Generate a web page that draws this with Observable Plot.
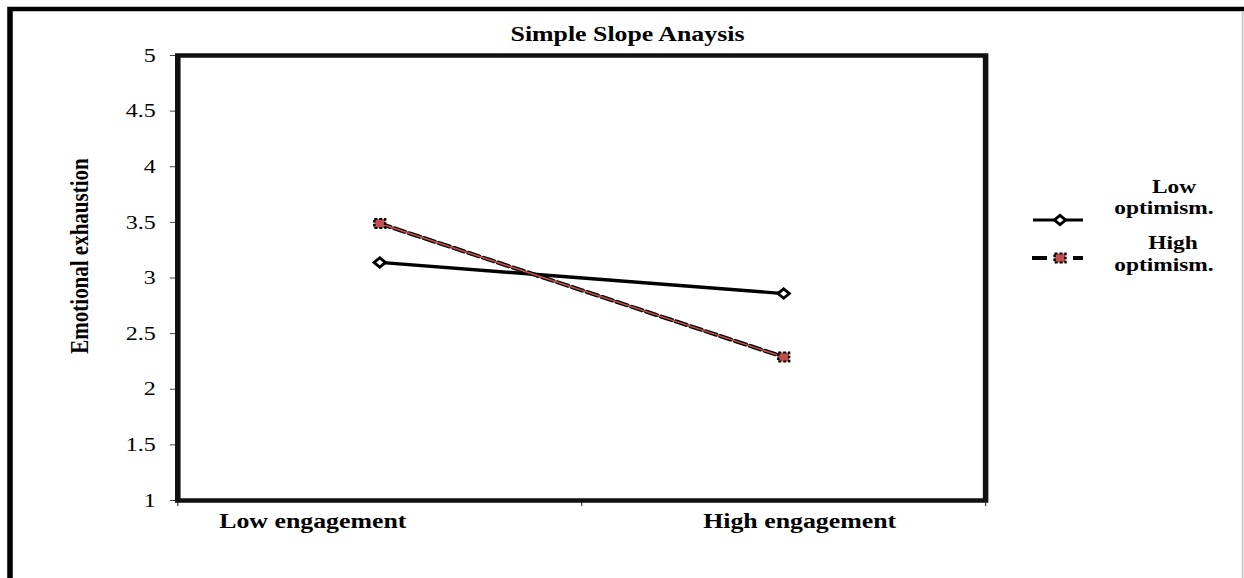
<!DOCTYPE html>
<html>
<head>
<meta charset="utf-8">
<script src="https://cdn.jsdelivr.net/npm/d3@7"></script>
<script src="https://cdn.jsdelivr.net/npm/@observablehq/plot@0.6"></script>
<style>
  html, body { margin: 0; padding: 0; background: #fff; overflow: hidden; }
  #chart { width: 1244px; height: 578px; }
</style>
</head>
<body>
<div id="chart"></div>
<script>
// ---- data ----
const engagement = ["Low engagement", "High engagement"];
const seriesNames = ["Low optimism.", "High optimism."];
const lowOptimism = [3.14, 2.86];
const highOptimism = [3.49, 2.29];
const yTicks = [1, 1.5, 2, 2.5, 3, 3.5, 4, 4.5, 5];
const titleText = "Simple Slope Anaysis";
const yLabel = "Emotional exhaustion";

const lowRows = engagement.map((e, i) => ({engagement: e, value: lowOptimism[i], series: seriesNames[0]}));
const highRows = engagement.map((e, i) => ({engagement: e, value: highOptimism[i], series: seriesNames[1]}));

// ---- layout ----
const W = 1011;           // drawing width, stretched horizontally to 1244px
const H = 578;
const s = 1244 / W;
const font = "'Liberation Serif', 'Times New Roman', serif";
const red = "#c0504d";
const xi = d => engagement.indexOf(d.engagement) + 0.5;
const diamondR = 4.2, squareR = 5;

const svg = Plot.plot({
  width: W,
  height: H,
  marginLeft: 144,
  marginRight: 210.5,
  marginTop: 55,
  marginBottom: 78,
  style: {fontFamily: font, background: "white", color: "#000"},
  x: {type: "linear", domain: [0, engagement.length], axis: null},
  y: {domain: [1, 5], axis: null},
  marks: [
    Plot.axisY({ticks: yTicks, tickSize: 6, tickPadding: 12, fontSize: 19.5, fontFamily: font, label: null, stroke: "#444", tickFormat: d => String(d)}),
    Plot.axisX({ticks: [0, 1, 2], tickSize: 6, tickFormat: () => "", label: null, stroke: "#444"}),
    Plot.frame({stroke: "#111", strokeWidth: 4.5}),
    Plot.line(lowRows, {x: xi, y: "value", stroke: "#000", strokeWidth: 3.4}),
    Plot.line(highRows, {x: xi, y: "value", stroke: "#000", strokeWidth: 4, strokeDasharray: "9,4"}),
    Plot.line(highRows, {x: xi, y: "value", stroke: red, strokeWidth: 1.6}),
    Plot.dot(lowRows, {x: xi, y: "value", symbol: "diamond2", r: diamondR, fill: "white", stroke: "#000", strokeWidth: 2.6}),
    Plot.dot(highRows, {x: xi, y: "value", symbol: "square", r: squareR, fill: red, stroke: "#000", strokeWidth: 2, strokeDasharray: "2.5,1.5"}),
    Plot.text(engagement.filter((d, i) => i === 0), {x: d => engagement.indexOf(d) + 0.5, text: d => d, frameAnchor: "bottom", dy: 27, dx: -54.4, fontSize: 21, fontWeight: "bold", fontFamily: font, fill: "#000"}),
    Plot.text(engagement.filter((d, i) => i === 1), {x: d => engagement.indexOf(d) + 0.5, text: d => d, frameAnchor: "bottom", dy: 27, dx: 13, fontSize: 21, fontWeight: "bold", fontFamily: font, fill: "#000"})
  ]
});

// stretch horizontally like the reference image
svg.setAttribute("preserveAspectRatio", "none");
svg.setAttribute("width", 1244);
svg.setAttribute("height", H);
svg.style.width = "1244px";
svg.style.height = H + "px";
svg.style.maxWidth = "none";

const root = d3.select(svg);
const vx = px => px / s;   // page x -> drawing x

// outer frame (top and left black, right light gray)
root.append("path")
  .attr("d", `M${vx(10)},${H} V9 H${W}`)
  .attr("fill", "none").attr("stroke", "#000").attr("stroke-width", 4.5);
root.append("line")
  .attr("x1", vx(1242.7)).attr("x2", vx(1242.7)).attr("y1", 11).attr("y2", H)
  .attr("stroke", "#c8c8c8").attr("stroke-width", 1.5);

// title
root.append("text")
  .attr("x", vx(627.5)).attr("y", 41)
  .attr("text-anchor", "middle")
  .attr("font-family", font).attr("font-weight", "bold").attr("font-size", 21)
  .attr("fill", "#000")
  .text(titleText);

// y-axis label
root.append("text")
  .attr("transform", `translate(${vx(79)},256) rotate(-90)`)
  .attr("text-anchor", "middle")
  .attr("dy", "0.35em")
  .attr("font-family", font).attr("font-weight", "bold").attr("font-size", 21)
  .attr("fill", "#000")
  .text(yLabel);

// legend
const leg = root.append("g")
  .attr("font-family", font).attr("font-weight", "bold").attr("font-size", 19).attr("fill", "#000");

// Low optimism entry
leg.append("line")
  .attr("x1", vx(1033)).attr("x2", vx(1083)).attr("y1", 220).attr("y2", 220)
  .attr("stroke", "#000").attr("stroke-width", 3.2);
leg.append("path")
  .attr("transform", `translate(${vx(1060)},220)`)
  .attr("d", d3.symbol(d3.symbolDiamond2, Math.PI * diamondR * diamondR)())
  .attr("fill", "white").attr("stroke", "#000").attr("stroke-width", 2.6);
const [w0a, w0b] = seriesNames[0].split(" ");
const t0 = leg.append("text").attr("text-anchor", "middle");
t0.append("tspan").attr("x", vx(1174)).attr("y", 193).text(w0a);
t0.append("tspan").attr("x", vx(1164)).attr("y", 214.5).text(w0b);

// High optimism entry
leg.append("line")
  .attr("x1", vx(1032)).attr("x2", vx(1047)).attr("y1", 258).attr("y2", 258)
  .attr("stroke", "#000").attr("stroke-width", 4);
leg.append("line")
  .attr("x1", vx(1073)).attr("x2", vx(1083)).attr("y1", 258).attr("y2", 258)
  .attr("stroke", "#000").attr("stroke-width", 4);
leg.append("path")
  .attr("transform", `translate(${vx(1060)},258)`)
  .attr("d", d3.symbol(d3.symbolSquare, Math.PI * squareR * squareR)())
  .attr("fill", red).attr("stroke", "#000").attr("stroke-width", 2).attr("stroke-dasharray", "2.5,1.5");
const [w1a, w1b] = seriesNames[1].split(" ");
const t1 = leg.append("text").attr("text-anchor", "middle");
t1.append("tspan").attr("x", vx(1173)).attr("y", 249.5).text(w1a);
t1.append("tspan").attr("x", vx(1164)).attr("y", 271).text(w1b);

document.getElementById("chart").appendChild(svg);
</script>
</body>
</html>
